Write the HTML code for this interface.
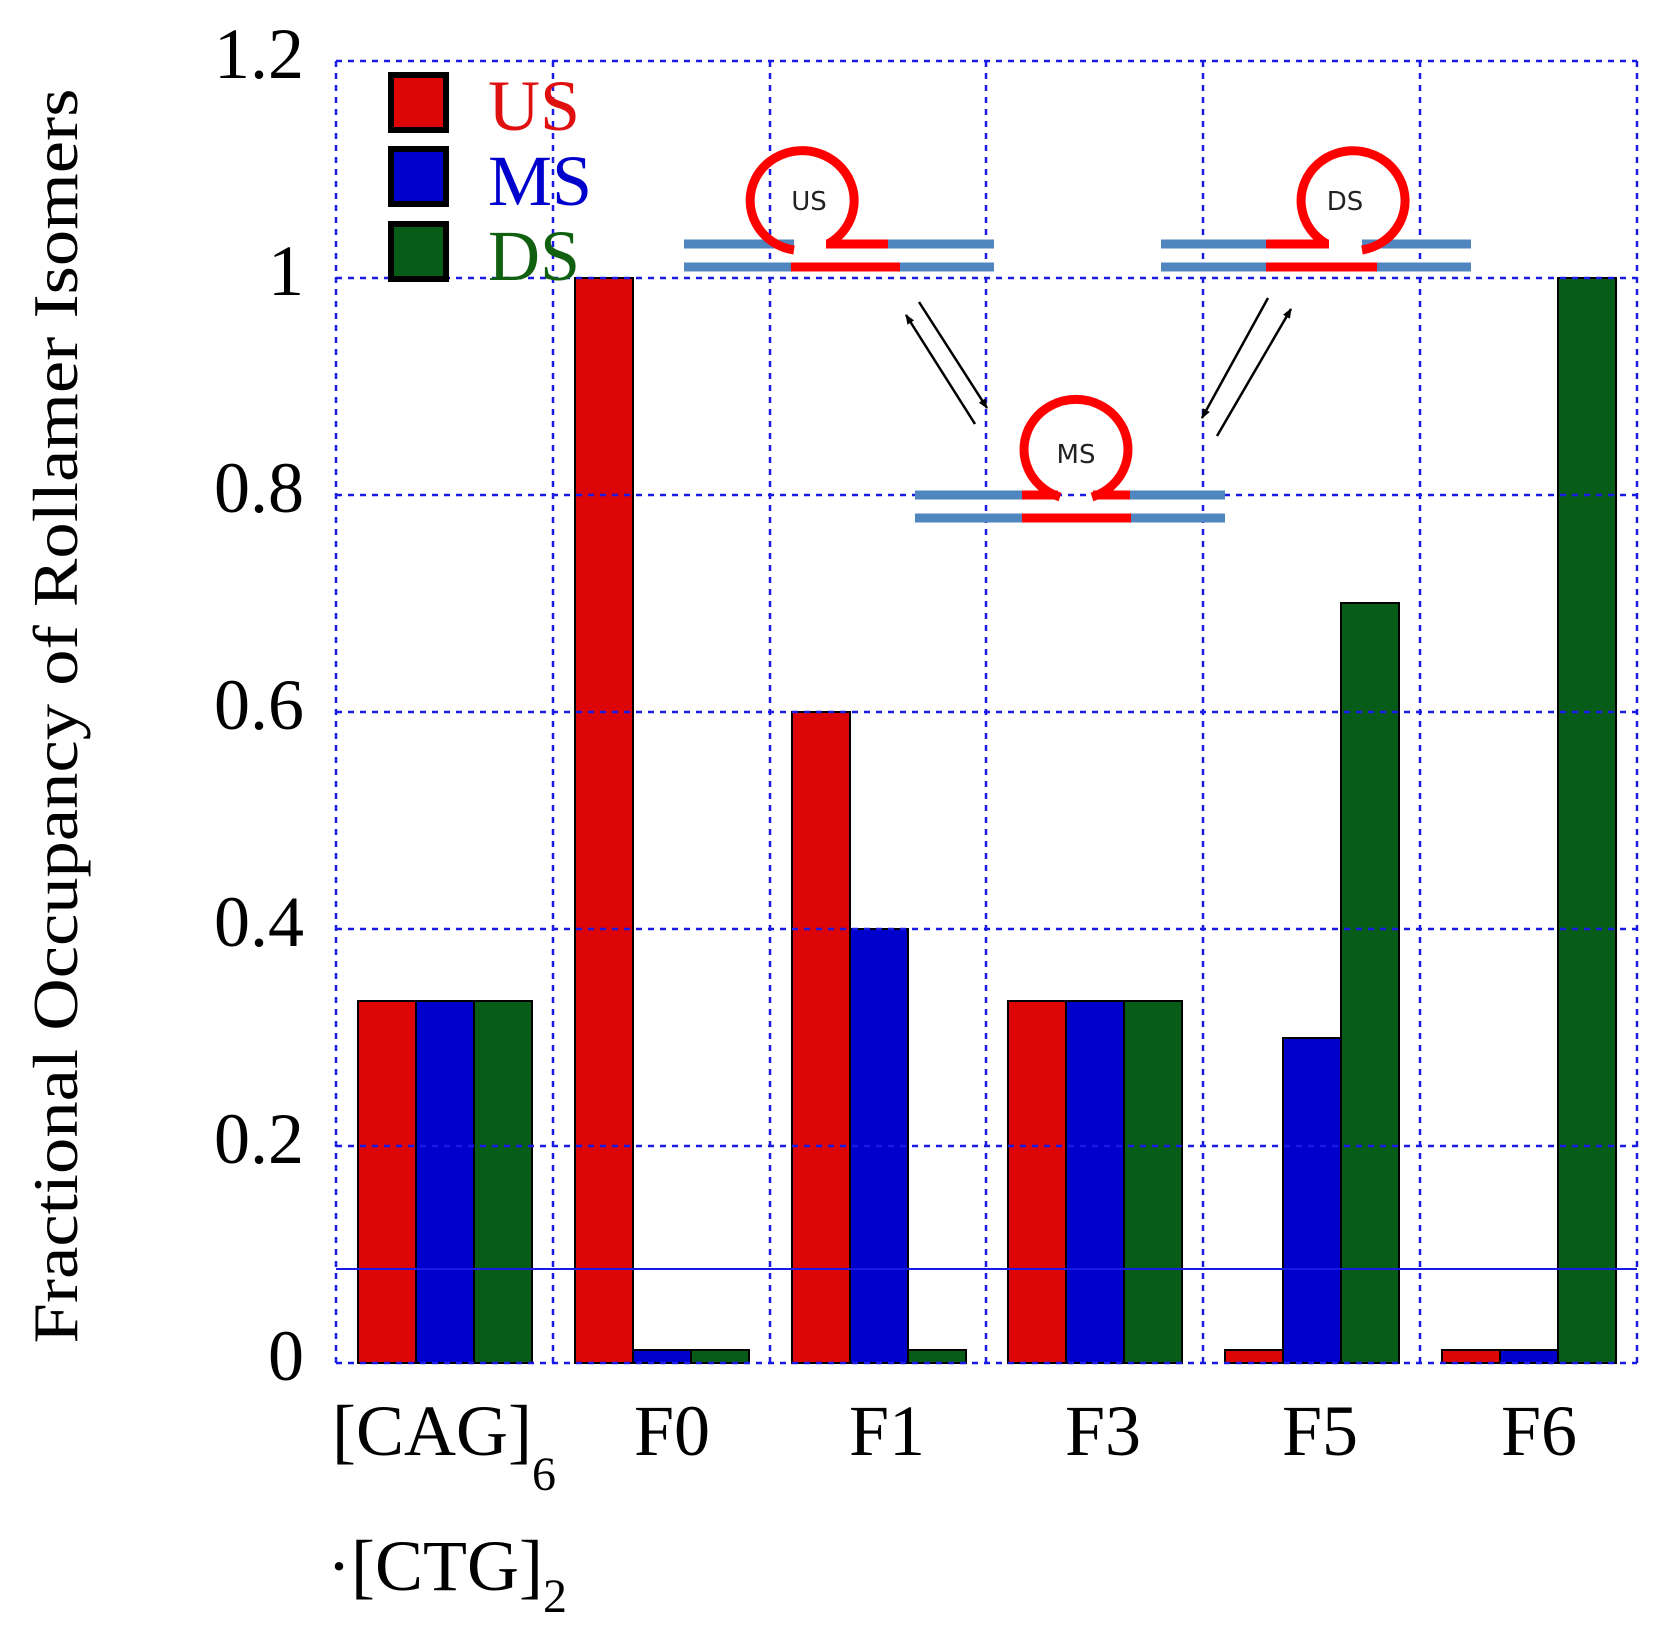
<!DOCTYPE html>
<html><head><meta charset="utf-8"><style>html,body{margin:0;padding:0;background:#fff}svg{display:block}</style></head>
<body>
<svg width="1659" height="1632" viewBox="0 0 1659 1632" xmlns="http://www.w3.org/2000/svg" font-family="'Liberation Serif', serif">
<defs>
<marker id="ah" markerWidth="10" markerHeight="10" refX="9" refY="5" orient="auto" markerUnits="userSpaceOnUse">
<path d="M0,1 L10,5 L0,9 z" fill="#000"/></marker>
</defs>
<g stroke="#000" stroke-width="2">
<rect x="358" y="1001" width="58" height="362" fill="#dd0505"/>
<rect x="416" y="1001" width="58" height="362" fill="#0000cc"/>
<rect x="474" y="1001" width="58" height="362" fill="#075d18"/>
<rect x="575" y="278" width="58" height="1085" fill="#dd0505"/>
<rect x="633" y="1350" width="58" height="13" fill="#0000cc"/>
<rect x="691" y="1350" width="58" height="13" fill="#075d18"/>
<rect x="792" y="712" width="58" height="651" fill="#dd0505"/>
<rect x="850" y="929" width="58" height="434" fill="#0000cc"/>
<rect x="908" y="1350" width="58" height="13" fill="#075d18"/>
<rect x="1008" y="1001" width="58" height="362" fill="#dd0505"/>
<rect x="1066" y="1001" width="58" height="362" fill="#0000cc"/>
<rect x="1124" y="1001" width="58" height="362" fill="#075d18"/>
<rect x="1225" y="1350" width="58" height="13" fill="#dd0505"/>
<rect x="1283" y="1038" width="58" height="325" fill="#0000cc"/>
<rect x="1341" y="603" width="58" height="760" fill="#075d18"/>
<rect x="1442" y="1350" width="58" height="13" fill="#dd0505"/>
<rect x="1500" y="1350" width="58" height="13" fill="#0000cc"/>
<rect x="1558" y="278" width="58" height="1085" fill="#075d18"/>
</g>
<g stroke="#1a1ae6" stroke-width="2.5" stroke-dasharray="6,6" fill="none">
<line x1="336" y1="61" x2="1637" y2="61"/>
<line x1="336" y1="278" x2="1637" y2="278"/>
<line x1="336" y1="495" x2="1637" y2="495"/>
<line x1="336" y1="712" x2="1637" y2="712"/>
<line x1="336" y1="929" x2="1637" y2="929"/>
<line x1="336" y1="1146" x2="1637" y2="1146"/>
<line x1="336" y1="1363" x2="1637" y2="1363"/>
<line x1="336" y1="61" x2="336" y2="1363"/>
<line x1="553" y1="61" x2="553" y2="1363"/>
<line x1="770" y1="61" x2="770" y2="1363"/>
<line x1="986" y1="61" x2="986" y2="1363"/>
<line x1="1203" y1="61" x2="1203" y2="1363"/>
<line x1="1420" y1="61" x2="1420" y2="1363"/>
<line x1="1637" y1="61" x2="1637" y2="1363"/>
</g>
<line x1="336" y1="1269" x2="1637" y2="1269" stroke="#1a1ae6" stroke-width="2"/>
<g stroke="#000" stroke-width="6">
<rect x="391" y="75" width="55" height="55" fill="#dd0505"/>
<rect x="391" y="149" width="55" height="55" fill="#0000cc"/>
<rect x="391" y="224" width="55" height="55" fill="#075d18"/>
</g>
<g font-size="72">
<text x="488" y="130" fill="#e01010">US</text>
<text x="488" y="205" fill="#0000cc">MS</text>
<text x="488" y="280" fill="#106010">DS</text>
</g>
<g font-size="72" text-anchor="end" fill="#000">
<text x="304" y="78">1.2</text>
<text x="304" y="295">1</text>
<text x="304" y="512">0.8</text>
<text x="304" y="729">0.6</text>
<text x="304" y="946">0.4</text>
<text x="304" y="1163">0.2</text>
<text x="304" y="1380">0</text>
</g>
<g font-size="72" fill="#000">
<text x="332" y="1455">[CAG]<tspan font-size="48" dy="35">6</tspan></text>
<text x="327" y="1590">·[CTG]<tspan font-size="48" dy="22">2</tspan></text>
<text x="672" y="1455" text-anchor="middle">F0</text>
<text x="887" y="1455" text-anchor="middle">F1</text>
<text x="1103" y="1455" text-anchor="middle">F3</text>
<text x="1320" y="1455" text-anchor="middle">F5</text>
<text x="1539" y="1455" text-anchor="middle">F6</text>
</g>
<text transform="translate(77,716) rotate(-90)" text-anchor="middle" font-size="64" textLength="1255" lengthAdjust="spacingAndGlyphs">Fractional Occupancy of Rollamer Isomers</text>
<g stroke-width="9" fill="none">
<line x1="684" y1="244" x2="794" y2="244" stroke="#4f86bf"/>
<line x1="888" y1="244" x2="994" y2="244" stroke="#4f86bf"/>
<line x1="826" y1="244" x2="888" y2="244" stroke="#f00"/>
<line x1="684" y1="267" x2="791" y2="267" stroke="#4f86bf"/>
<line x1="791" y1="267" x2="900" y2="267" stroke="#f00"/>
<line x1="900" y1="267" x2="994" y2="267" stroke="#4f86bf"/>
<path d="M794,250 A52,50 0 1,1 828,244" stroke="#f00"/>
<line x1="1161" y1="244" x2="1266" y2="244" stroke="#4f86bf"/>
<line x1="1266" y1="244" x2="1329" y2="244" stroke="#f00"/>
<line x1="1362" y1="244" x2="1471" y2="244" stroke="#4f86bf"/>
<line x1="1161" y1="267" x2="1266" y2="267" stroke="#4f86bf"/>
<line x1="1266" y1="267" x2="1377" y2="267" stroke="#f00"/>
<line x1="1377" y1="267" x2="1471" y2="267" stroke="#4f86bf"/>
<path d="M1327,244 A52,50 0 1,1 1362,250" stroke="#f00"/>
<line x1="915" y1="495" x2="1022" y2="495" stroke="#4f86bf"/>
<line x1="1022" y1="495" x2="1058" y2="495" stroke="#f00"/>
<line x1="1093" y1="495" x2="1130" y2="495" stroke="#f00"/>
<line x1="1130" y1="495" x2="1225" y2="495" stroke="#4f86bf"/>
<line x1="915" y1="518" x2="1022" y2="518" stroke="#4f86bf"/>
<line x1="1022" y1="518" x2="1131" y2="518" stroke="#f00"/>
<line x1="1131" y1="518" x2="1225" y2="518" stroke="#4f86bf"/>
<path d="M1060,497 A52,50 0 1,1 1092,497" stroke="#f00"/>
</g>
<g font-family="'DejaVu Sans', sans-serif" font-size="26" fill="#222" text-anchor="middle">
<text x="809" y="210">US</text>
<text x="1345" y="210">DS</text>
<text x="1076" y="463">MS</text>
</g>
<g stroke="#000" stroke-width="2.5">
<line x1="919" y1="302" x2="987" y2="408" marker-end="url(#ah)"/>
<line x1="975" y1="424" x2="906" y2="315" marker-end="url(#ah)"/>
<line x1="1268" y1="298" x2="1202" y2="418" marker-end="url(#ah)"/>
<line x1="1217" y1="436" x2="1291" y2="309" marker-end="url(#ah)"/>
</g>
</svg>
</body></html>
